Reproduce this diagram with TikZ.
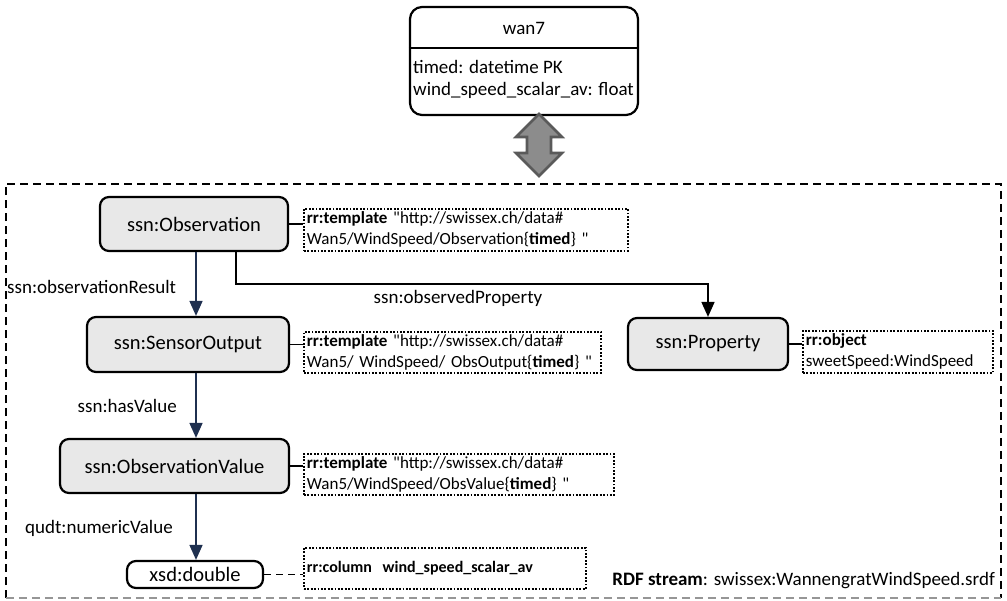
\documentclass[tikz,border=0pt]{standalone}
\usepackage{fontspec}
\setmainfont{Carlito}[Ligatures=TeXOff]
\usetikzlibrary{arrows.meta,calc}

\definecolor{boxgray}{RGB}{232,232,232}
\definecolor{navy}{RGB}{31,48,80}
\definecolor{arrowfill}{RGB}{140,140,140}
\definecolor{arrowline}{RGB}{90,90,90}
\definecolor{edgegray}{RGB}{150,150,150}

\tikzset{
  cls/.style={draw, line width=2.2pt, rounded corners=9pt, fill=boxgray,
    font=\fontsize{20.5}{24}\selectfont, inner sep=0pt},
  tmpl/.style={draw, line width=1.8pt, dash pattern=on 1.8pt off 1.6pt,
    anchor=north west, align=left, inner xsep=3pt, inner ysep=0pt,
    font=\fontsize{17}{21}\selectfont},
  lbl/.style={font=\fontsize{19}{22}\selectfont, inner sep=0pt},
  navyarrow/.style={draw=navy, line width=1.6pt,
    -{Triangle[length=15pt,width=13pt]}},
  blackarrow/.style={draw=black, line width=1.6pt,
    -{Triangle[length=15pt,width=13pt]}},
  tick/.style={draw, line width=1.4pt},
  streamedge/.style={line width=1.6pt, dash pattern=on 8pt off 5pt},
}

\begin{document}
\begin{tikzpicture}[x=1pt,y=-1pt]
\useasboundingbox (0,0) rectangle (1007,601);

% relational table
\node[draw, line width=2.2pt, rounded corners=12pt, minimum width=228pt,
  minimum height=108pt, inner sep=0pt] (wan7) at (524,61) {};
\draw[line width=1.4pt] (wan7.west |- 0,48) -- (wan7.east |- 0,48);
\node[font=\fontsize{19}{23}\selectfont, inner sep=0pt] (wantitle) at (524,28) {wan7};
\node[font=\fontsize{19}{22}\selectfont, anchor=west, align=left, inner sep=0pt]
  (wancols) at (413,79) {timed: datetime PK\\wind\_speed\_scalar\_av: float};

% double arrow between table and stream
\filldraw[fill=arrowfill, draw=arrowline, line width=2.6pt, line join=miter]
  (539,114) -- (562,137) -- (551,137) -- (551,153) -- (562,153) -- (539,176)
  -- (516,153) -- (527,153) -- (527,137) -- (516,137) -- cycle;

% stream frame
\node[minimum width=995pt, minimum height=414pt, inner sep=0pt] (stream) at (503.5,391) {};
\draw[streamedge] (stream.south west) -- (stream.north west) -- (stream.north east) -- (stream.south east);
\draw[streamedge, draw=edgegray] (stream.south west) -- (stream.south east);
\node[lbl, anchor=east] (streamname) at (995,581)
  {\textbf{RDF stream}: swissex:WannengratWindSpeed.srdf};

% class nodes
\node[cls, minimum width=188pt, minimum height=54pt] (obs) at (194,224) {ssn:Observation};
\node[cls, minimum width=202pt, minimum height=55pt] (sout) at (188,344.5) {ssn:SensorOutput};
\node[cls, minimum width=229pt, minimum height=54pt] (oval) at (174.5,466) {ssn:ObservationValue};
\node[cls, minimum width=160pt, minimum height=52pt] (prop) at (708,344) {ssn:Property};
\node[cls, fill=white, minimum width=136pt, minimum height=27pt] (dbl) at (195,574.5) {xsd:double};

% mapping annotations
\node[tmpl, text width=318pt, minimum height=42pt] (t1) at (303,208)
  {\textbf{rr:template} "http://swissex.ch/data\#\\Wan5/WindSpeed/Observation\{\textbf{timed}\} "};
\node[tmpl, text width=291pt, minimum height=41pt] (t2) at (303,331)
  {\textbf{rr:template} "http://swissex.ch/data\#\\Wan5/ WindSpeed/ ObsOutput\{\textbf{timed}\} "};
\node[tmpl, text width=304pt, minimum height=41pt] (t3) at (303,453)
  {\textbf{rr:template} "http://swissex.ch/data\#\\Wan5/WindSpeed/ObsValue\{\textbf{timed}\} "};
\node[tmpl, text width=184pt, minimum height=42pt] (t4) at (802,330)
  {\textbf{rr:object}\\sweetSpeed:WindSpeed};
\node[tmpl, text width=276pt, minimum height=41pt, font=\fontsize{16}{20}\selectfont] (t5) at (303,547)
  {\textbf{rr:column\ \ wind\_speed\_scalar\_av}};

\draw[tick] (obs.east) -- (obs.east -| t1.west);
\draw[tick] (sout.east) -- (sout.east -| t2.west);
\draw[tick] (oval.east) -- (oval.east -| t3.west);
\draw[tick] (prop.east) -- (prop.east -| t4.west);
\draw[tick, dash pattern=on 7pt off 5pt] (dbl.east) -- (dbl.east -| t5.west);

% properties
\coordinate (spine) at (196,0);
\draw[navyarrow] (spine |- obs.south) -- (spine |- sout.north);
\draw[navyarrow] (spine |- sout.south) -- (spine |- oval.north);
\draw[navyarrow] (spine |- oval.south) -- (spine |- dbl.north);
\coordinate (bend) at (236,284);
\draw[blackarrow] (bend |- obs.south) -- (bend) -| (prop.north);

\node[lbl, anchor=west] (lres) at (7,287) {ssn:observationResult};
\node[lbl] (lprop) at (458,298) {ssn:observedProperty};
\node[lbl, anchor=east] (lval) at (177,406) {ssn:hasValue};
\node[lbl, anchor=east] (lnum) at (173,528) {qudt:numericValue};
\end{tikzpicture}
\end{document}
